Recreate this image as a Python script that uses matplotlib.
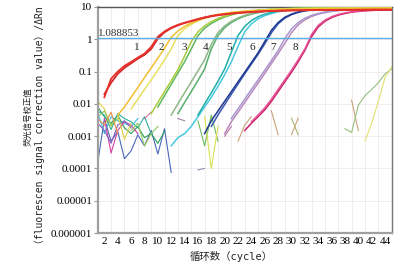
import numpy as np
import matplotlib
matplotlib.use("Agg")
import matplotlib.pyplot as plt
from matplotlib.ticker import FixedLocator, FixedFormatter

# ---- amplification curves (first cycle, values per cycle up to 45) ----
red_a_start = 2
red_a = [0.016, 0.06, 0.1, 0.15, 0.2, 0.27, 0.36, 0.58, 1.2, 1.75, 2.3, 2.8, 3.25, 3.7,
         4.25, 4.8, 5.3, 5.7, 6.0, 6.3, 6.6, 6.8, 7.0, 7.2, 7.4, 7.5, 7.7, 7.8, 7.9, 7.95,
         8.0, 8.05, 8.1, 8.1, 8.15, 8.2, 8.2, 8.2, 8.25, 8.25, 8.3, 8.3, 8.3, 8.3]
red_b_start = 2
red_b = [0.02, 0.045, 0.085, 0.13, 0.18, 0.25, 0.33, 0.5, 1.05, 1.65, 2.2, 2.7, 3.2, 3.65,
         4.15, 4.65, 5.15, 5.55, 5.9, 6.25, 6.55, 6.8, 7.0, 7.2, 7.35, 7.5, 7.6, 7.7, 7.8,
         7.85, 7.9, 7.95, 8.0, 8.0, 8.05, 8.1, 8.1, 8.1, 8.15, 8.15, 8.2, 8.2, 8.2, 8.2]
yel_a_start = 4
yel_a = [0.0045, 0.008, 0.016, 0.032, 0.065, 0.13, 0.26, 0.53, 1.15, 1.8, 2.5, 3.2, 3.9,
         4.6, 5.3, 5.8, 6.3, 6.7, 7.0, 7.3, 7.6, 7.8, 8.0, 8.2, 8.3, 8.4, 8.5, 8.6, 8.7,
         8.7, 8.8, 8.8, 8.9, 8.9, 8.9, 9.0, 9.0, 9.0, 9.0, 9.1, 9.1, 9.1]
yel_b_start = 6
yel_b = [0.007, 0.014, 0.028, 0.055, 0.11, 0.23, 0.5, 1.3, 2.1, 2.9, 3.7, 4.5, 5.2, 5.8,
         6.3, 6.8, 7.2, 7.5, 7.8, 8.0, 8.2, 8.4, 8.5, 8.6, 8.7, 8.8, 8.9, 8.9, 9.0, 9.0,
         9.1, 9.1, 9.1, 9.2, 9.2, 9.2, 9.2, 9.3, 9.3, 9.3]
grn_a_start = 9
grn_a = [0.005, 0.011, 0.024, 0.052, 0.115, 0.3, 0.85, 1.7, 2.6, 3.5, 4.4, 5.2, 5.9, 6.5,
         7.0, 7.4, 7.8, 8.1, 8.4, 8.6, 8.8, 9.0, 9.1, 9.2, 9.3, 9.4, 9.4, 9.5, 9.5, 9.6,
         9.6, 9.6, 9.6, 9.7, 9.7, 9.7, 9.7]
grn_b_start = 10
grn_b = [0.008, 0.018, 0.04, 0.09, 0.2, 0.5, 1.3, 2.2, 3.1, 4.0, 4.9, 5.7, 6.4, 7.0, 7.5,
         7.9, 8.2, 8.5, 8.7, 8.9, 9.0, 9.2, 9.3, 9.3, 9.4, 9.5, 9.5, 9.6, 9.6, 9.6, 9.7,
         9.7, 9.7, 9.7, 9.8, 9.8]
olv_a_start = 12
olv_a = [0.0045, 0.01, 0.022, 0.048, 0.105, 0.23, 0.7, 1.6, 2.6, 3.6, 4.6, 5.5, 6.3, 6.9,
         7.5, 7.9, 8.3, 8.6, 8.8, 9.0, 9.2, 9.3, 9.4, 9.5, 9.5, 9.6, 9.6, 9.7, 9.7, 9.7,
         9.8, 9.8, 9.8, 9.8]
olv_b_start = 13
olv_b = [0.005, 0.011, 0.024, 0.053, 0.12, 0.5, 1.3, 2.3, 3.3, 4.3, 5.2, 6.0, 6.7, 7.3,
         7.8, 8.2, 8.5, 8.7, 8.9, 9.1, 9.2, 9.3, 9.4, 9.5, 9.5, 9.6, 9.6, 9.6, 9.7, 9.7,
         9.7, 9.7, 9.7]
teal_a_start = 16
teal_a = [0.0045, 0.01, 0.022, 0.05, 0.12, 0.4, 1.3, 2.5, 3.8, 5.0, 6.0, 6.8, 7.5, 8.0,
          8.4, 8.7, 8.9, 9.1, 9.2, 9.3, 9.4, 9.5, 9.5, 9.6, 9.6, 9.6, 9.7, 9.7, 9.7, 9.7]
teal_b_start = 12
teal_b = [0.0005, 0.0009, 0.0012, 0.002, 0.004, 0.008, 0.016, 0.035, 0.08, 0.2, 0.6, 1.7,
          3.0, 4.3, 5.4, 6.3, 7.1, 7.7, 8.2, 8.5, 8.8, 9.0, 9.1, 9.2, 9.3, 9.4, 9.4, 9.5,
          9.5, 9.5, 9.6, 9.6, 9.6, 9.6]
blue_a_start = 17
blue_a = [0.0012, 0.003, 0.006, 0.012, 0.024, 0.048, 0.095, 0.19, 0.38, 0.85, 1.9, 3.3,
          4.8, 6.0, 7.0, 7.7, 8.2, 8.6, 8.9, 9.1, 9.2, 9.3, 9.4, 9.5, 9.5, 9.5, 9.6, 9.6,
          9.6]
blue_b_start = 18
blue_b = [0.002, 0.0045, 0.0095, 0.02, 0.041, 0.085, 0.17, 0.34, 0.72, 1.6, 3.0, 4.5, 5.8,
          6.8, 7.6, 8.1, 8.5, 8.8, 9.0, 9.2, 9.3, 9.4, 9.4, 9.5, 9.5, 9.5, 9.6, 9.6]
lav_a_start = 21
lav_a = [0.0035, 0.007, 0.014, 0.028, 0.055, 0.11, 0.22, 0.45, 1.05, 2.1, 3.3, 4.5, 5.5,
         6.3, 7.0, 7.5, 7.9, 8.2, 8.4, 8.6, 8.7, 8.8, 8.9, 8.9, 9.0]
lav_b_start = 20
lav_b = [0.0012, 0.0028, 0.0055, 0.011, 0.022, 0.044, 0.088, 0.18, 0.36, 0.75, 1.6, 2.8,
         4.0, 5.1, 6.0, 6.7, 7.3, 7.7, 8.0, 8.3, 8.5, 8.6, 8.7, 8.8, 8.8, 8.8]
pink_a_start = 24
pink_a = [0.0028, 0.0045, 0.0075, 0.014, 0.028, 0.055, 0.11, 0.23, 0.5, 1.4, 2.7, 3.9,
          5.0, 5.9, 6.6, 7.1, 7.5, 7.8, 8.0, 8.1, 8.2, 8.2]
pink_b_start = 23
pink_b = [0.0015, 0.0025, 0.004, 0.0065, 0.012, 0.024, 0.048, 0.095, 0.2, 0.45, 1.2, 2.4,
          3.6, 4.7, 5.6, 6.3, 6.9, 7.3, 7.6, 7.8, 8.0, 8.1, 8.1]

# ---- baseline noise (NaN = value not shown on log axis) ----
nan = np.nan
noise_blue = [0.00015, 0.0035, 0.0007, 0.0014, 0.0002, 0.00035, 0.0011, 0.0005, 0.0015,
              0.00028, 0.0017, 0.000075]
noise_cyan = [0.0055, 0.0012, 0.004, 0.003, 0.0025, 0.002, 0.0035]
noise_green = [0.008, 0.004, 0.0025, 0.0045, 0.0018, 0.0012, 0.002, 0.0009, 0.0012,
               0.0006, 0.0014]
noise_magenta = [nan, 0.0035, 0.0003, 0.0015, 0.0028, 0.0022, 0.0012]
noise_purple = [0.0025, 0.0015, 0.0006, 0.0022, 0.003, 0.0018]
noise_yellow = [0.012, 0.007, 0.002, 0.0045, 0.0008, 0.0025]
noise_teal = [0.006, 0.0045, 0.0016, 0.005, 0.0035, 0.0028, 0.0018, 0.004, 0.0012]
noise_lgreen = [0.004, 0.006, 0.0022, 0.0035, nan, 0.0015, 0.0025, 0.0005, 0.0012, 0.002]
noise_orange = [0.0035, 0.0022, 0.0055, 0.0012]
noise_pink_start, noise_pink = 8, [0.0035, 0.0055]
noise_mauve_start, noise_mauve = 13, [0.0035, 0.003]
noise_vgreen_start, noise_vgreen = 16, [0.003, 0.0005, 0.0045, 0.0007]
noise_vyel_start, noise_vyel = 17, [0.004, 0.0001, 0.002]
noise_gray_start, noise_gray = 16, [0.00009, 0.0001]
noise_plum_start, noise_plum = 20, [0.001, 0.002]
noise_tan1_start, noise_tan1 = 22, [0.0007, 0.0022, 0.004]
noise_tan2_start, noise_tan2 = 27, [0.006, 0.0011]
noise_x1_start, noise_x1 = 30, [0.0036, 0.0011]
noise_x2_start, noise_x2 = 30, [0.0011, 0.0036]
noise_tan3_start, noise_tan3 = 39, [0.013, 0.0015]
ntc_green_start = 38
ntc_green = [0.0017, 0.0013, 0.009, 0.018, 0.028, 0.045, 0.085, 0.12]
ntc_yellow_start = 41
ntc_yellow = [0.0007, 0.0025, 0.012, 0.065, 0.14]

threshold = 1.088853
threshold_text = "1.088853"
curve_labels = ["1", "2", "3", "4", "5", "6", "7", "8"]
label_x = [6.9, 10.5, 14.0, 17.15, 20.6, 24.2, 27.2, 30.6]
label_y = 0.56

y_ticks = [1e-6, 1e-5, 1e-4, 1e-3, 1e-2, 1e-1, 1, 10]
y_tick_labels = ["0.000001", "0.00001", "0.0001", "0.001", "0.01", "0.1", "1", "10"]
x_ticks = list(range(2, 45, 2))

serif = ["Liberation Serif", "Noto Sans CJK SC"]
mono = ["DejaVu Sans Mono", "Noto Sans CJK SC"]

fig = plt.figure(figsize=(4.09, 2.67), dpi=100)
ax = fig.add_axes([0.2389, 0.1273, 0.7188, 0.8465])
ax.set_yscale("log")


def draw(start, vals, color, lw=0.8, z=2):
    x = start + np.arange(len(vals))
    ax.plot(x, vals, color=color, lw=lw, zorder=z, solid_joinstyle="round")


# noise first
draw(1, noise_blue, "#4a68b8")
draw(1, noise_cyan, "#3cc0e0")
draw(1, noise_green, "#2aa05a")
draw(1, noise_magenta, "#d040a0")
draw(1, noise_purple, "#8060c0")
draw(1, noise_yellow, "#e0d040")
draw(1, noise_teal, "#30b0a0")
draw(1, noise_lgreen, "#90c860")
draw(1, noise_orange, "#e89040")
draw(noise_pink_start, noise_pink, "#d070a0")
draw(noise_mauve_start, noise_mauve, "#a080b0")
draw(noise_vgreen_start, noise_vgreen, "#6cbc5c")
draw(noise_vyel_start, noise_vyel, "#d8e050")
draw(noise_gray_start, noise_gray, "#9090b0")
draw(noise_plum_start, noise_plum, "#b070a0")
draw(noise_tan1_start, noise_tan1, "#c8a078")
draw(noise_tan2_start, noise_tan2, "#c8a078")
draw(noise_x1_start, noise_x1, "#a8b870")
draw(noise_x2_start, noise_x2, "#c8a878")
draw(noise_tan3_start, noise_tan3, "#c8a078")
draw(ntc_green_start, ntc_green, "#98c080")
draw(ntc_yellow_start, ntc_yellow, "#e0e070")

# amplification curves
draw(pink_b_start, pink_b, "#c82060", 1.1, 3)
draw(pink_a_start, pink_a, "#e8509a", 1.1, 3)
draw(lav_b_start, lav_b, "#b888b8", 1.1, 3)
draw(lav_a_start, lav_a, "#a898d0", 1.1, 3)
draw(blue_b_start, blue_b, "#3c58b0", 1.1, 3)
draw(blue_a_start, blue_a, "#1c3890", 1.1, 3)
draw(teal_b_start, teal_b, "#48c8e0", 1.1, 3)
draw(teal_a_start, teal_a, "#20b0a8", 1.1, 3)
draw(olv_b_start, olv_b, "#58b070", 1.1, 3)
draw(olv_a_start, olv_a, "#90b888", 1.1, 3)
draw(grn_b_start, grn_b, "#5cb85c", 1.1, 3)
draw(grn_a_start, grn_a, "#a8cc3c", 1.1, 3)
draw(yel_b_start, yel_b, "#e8e060", 1.1, 3)
draw(yel_a_start, yel_a, "#f0c030", 1.1, 3)
draw(red_b_start, red_b, "#d42a2a", 1.3, 4)
draw(red_a_start, red_a, "#e8302a", 1.3, 4)

ax.axhline(threshold, color="#5aaee0", lw=1.0, zorder=5)
ax.text(1.1, threshold * 1.02, threshold_text, family=serif, fontsize=8,
        color="#333333", ha="left", va="bottom", zorder=6)
for lab, lx in zip(curve_labels, label_x):
    ax.text(lx, label_y, lab, family=serif, fontsize=8, color="#222222",
            ha="center", va="center", zorder=6)

ax.set_xlim(1.0, 44.6)
ax.set_ylim(1e-6, 10)
ax.yaxis.set_major_locator(FixedLocator(y_ticks))
ax.yaxis.set_major_formatter(FixedFormatter(y_tick_labels))
ax.yaxis.set_minor_locator(FixedLocator([]))
ax.set_xticks(x_ticks)
ax.set_xticks(range(1, 46), minor=True)
for lab in ax.get_xticklabels() + ax.get_yticklabels():
    lab.set_family(serif)
ax.tick_params(axis="y", which="major", length=3, width=0.8, color="#999999",
               labelsize=8, pad=1)
ax.tick_params(axis="x", which="both", length=0, labelsize=8, pad=3)

ax.grid(which="minor", axis="x", color="#f1e9ee", lw=0.6, zorder=0)
ax.grid(which="major", axis="y", color="#f1e9ee", lw=0.6, zorder=0)
ax.set_axisbelow(True)

ax.spines["left"].set_color("#a0a0a0")
ax.spines["left"].set_linewidth(1.6)
ax.spines["bottom"].set_color("#a0a0a0")
ax.spines["bottom"].set_linewidth(1.6)
ax.spines["top"].set_color("#555555")
ax.spines["top"].set_linewidth(1.0)
ax.spines["right"].set_color("#777777")
ax.spines["right"].set_linewidth(1.0)

fig.text(28 / 409, 1 - 117 / 267, "荧光信号校正值", family=["Noto Sans CJK SC"],
         fontsize=6, rotation=90, ha="center", va="center", color="#222222")
fig.text(40 / 409, 1 - 128 / 267, "（fluorescen signal correction value）/ΔRn",
         family=mono, fontsize=7, rotation=90, ha="center", va="center", color="#222222")
fig.text(231 / 409, 1 - 256 / 267, "循环数（cycle）", family=mono, fontsize=7.5,
         ha="center", va="center", color="#222222")

fig.savefig("out.png", dpi=100)
